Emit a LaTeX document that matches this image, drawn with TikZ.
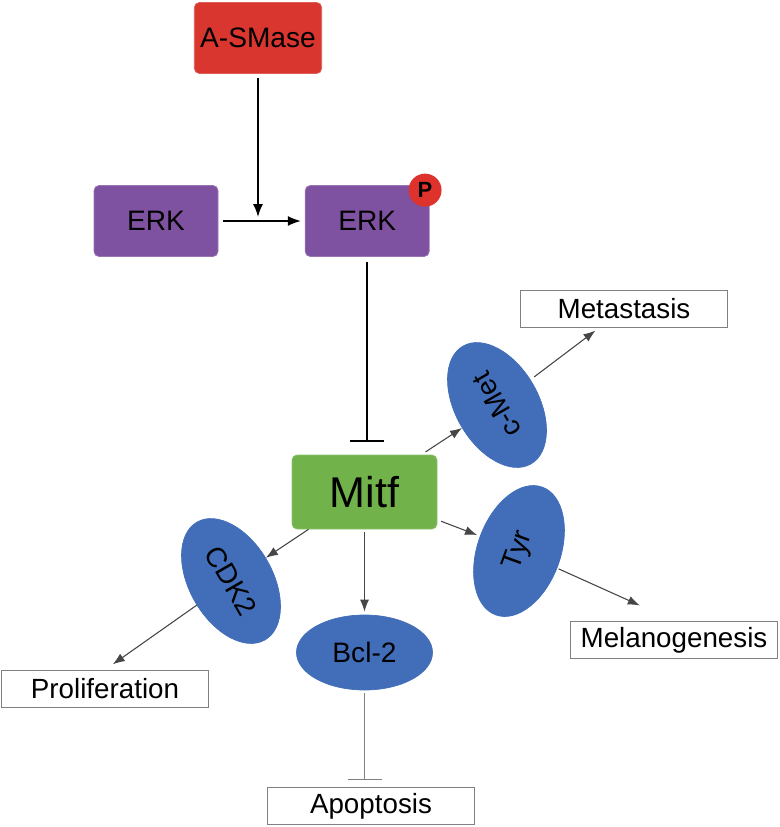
\documentclass[tikz,border=0pt]{standalone}
\usepackage{fontspec}
\setmainfont{Liberation Sans}
\usetikzlibrary{arrows.meta, positioning, shapes.geometric}
\definecolor{smasered}{RGB}{216,54,46}
\definecolor{erkpurple}{RGB}{127,82,161}
\definecolor{mitfgreen}{RGB}{114,178,75}
\definecolor{ovalblue}{RGB}{66,110,185}
\definecolor{phosred}{RGB}{222,50,44}
\definecolor{linegray}{RGB}{70,70,70}

\begin{document}
\begin{tikzpicture}[
    kinase/.style={rectangle, rounded corners=1mm, draw=#1!80!white, fill=#1, minimum width=2.48cm,
                   minimum height=1.42cm, font=\fontsize{16}{19}\selectfont},
    target/.style={ellipse, draw=ovalblue, fill=ovalblue, minimum width=2.72cm, minimum height=1.66cm,
                   inner sep=0pt, font=\fontsize{16}{19}\selectfont},
    outcome/.style={rectangle, draw=gray, line width=0.8pt, fill=white, minimum width=4.14cm,
                    minimum height=0.74cm, inner sep=0pt, font=\fontsize{15.8}{18}\selectfont},
    arrow/.style={-{Latex[length=2.6mm, width=2mm]}, line width=0.9pt},
    thinarrow/.style={-{Latex[length=2.4mm, width=1.8mm]}, line width=0.6pt, draw=linegray, fill=linegray},
    inhibit/.style={-{Bar[width=6.8mm]}, line width=0.9pt}
]
    \useasboundingbox (0,0) rectangle (15.58,-16.54);
    \node[kinase=smasered] (asmase) at (5.16,-0.76) {A-SMase};
    \node[kinase=erkpurple] (erk1) at (3.12,-4.42) {ERK};
    \node[kinase=erkpurple, right=1.73cm of erk1] (erk2) {ERK};
    \node[circle, fill=phosred, minimum size=0.66cm, inner sep=0pt, font=\fontsize{12.5}{14}\bfseries]
        (phos) at ([shift={(-0.09,-0.10)}]erk2.north east) {P};
    \node[kinase=mitfgreen, minimum width=2.9cm, minimum height=1.48cm, font=\fontsize{24.5}{28}\selectfont]
        (mitf) at (7.29,-9.84) {Mitf};
    \node[target, rotate=120] (cmet) at (9.94,-8.10) {c-Met};
    \node[target, rotate=70] (tyr) at (10.38,-11.02) {Tyr};
    \node[target, rotate=-60] (cdk2) at (4.62,-11.62) {CDK2};
    \node[target, minimum height=1.5cm] (bcl2) at (7.29,-13.05) {Bcl-2};
    \node[outcome] (meta) at (12.48,-6.18) {Metastasis};
    \node[outcome] (melano) at (13.48,-12.80) {Melanogenesis};
    \node[outcome] (prolif) at (2.10,-13.78) {Proliferation};
    \node[outcome] (apop) at (7.42,-16.12) {Apoptosis};

    \draw[arrow, shorten <=0.08cm, shorten >=0.08cm] (asmase.south) -- (asmase.south |- erk1.east);
    \draw[arrow, shorten <=0.1cm, shorten >=0.08cm] (erk1) -- (erk2);
    \draw[inhibit, shorten <=0.1cm, shorten >=0.26cm] (erk2.south) -- (erk2.south |- mitf.north);
    \draw[thinarrow, shorten <=0.1cm] (mitf) -- (cmet);
    \draw[thinarrow, shorten <=0.09cm, shorten >=0.08cm] (cmet) -- (meta);
    \draw[thinarrow, shorten <=0.08cm, shorten >=0.06cm] (mitf) -- (tyr);
    \draw[thinarrow, shorten <=0.03cm, shorten >=0.75cm] (tyr) -- (melano.north);
    \draw[thinarrow] (mitf) -- (cdk2);
    \draw[thinarrow, shorten >=0.19cm] (cdk2) -- (prolif.north);
    \draw[thinarrow, shorten <=0.06cm, shorten >=0.06cm] (mitf) -- (bcl2);
    \draw[-{Bar[width=6.8mm]}, line width=0.6pt, gray, shorten <=0.06cm, shorten >=0.14cm]
        (bcl2.south) -- (bcl2.south |- apop.north);
\end{tikzpicture}
\end{document}
